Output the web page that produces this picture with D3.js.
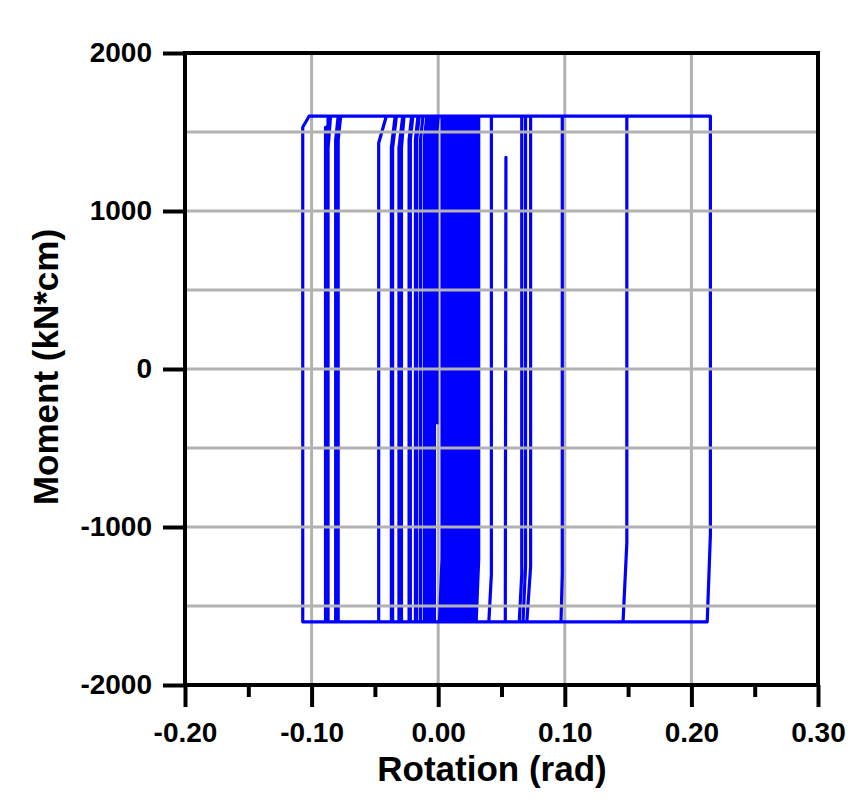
<!DOCTYPE html>
<html>
<head>
<meta charset="utf-8">
<script src="https://cdn.jsdelivr.net/npm/d3@7"></script>
<style>
  body { margin: 0; background: #fff; }
  svg text { font-family: "Liberation Sans", Arial, sans-serif; font-weight: bold; fill: #000; }
</style>
</head>
<body>
<svg width="864" height="810"></svg>
<script>
// turning points of the hysteresis path (rad, kN*cm)
let rotation = [
  -0.001, -0.001, 0.000,
  0.003, 0.003, 0.001, -0.003, -0.003, -0.001,
  0.005, 0.005, 0.003, -0.004, -0.004, -0.002,
  0.007, 0.007, 0.005, -0.005, -0.005, -0.003,
  0.009, 0.009, 0.007, -0.007, -0.007, -0.005,
  0.011, 0.011, 0.009, -0.009, -0.009, -0.007,
  0.013, 0.013, 0.011, -0.011, -0.011, -0.009,
  0.015, 0.015, 0.013, -0.014, -0.014, -0.012,
  0.017, 0.017, 0.015, -0.017, -0.017, -0.015,
  0.019, 0.019, 0.017, -0.018, -0.018, -0.016,
  0.021, 0.021, 0.019, -0.022, -0.022, -0.020,
  0.023, 0.023, 0.021, -0.023, -0.023, -0.021,
  0.025, 0.025, 0.023, -0.029, -0.029, -0.027,
  0.027, 0.027, 0.025, -0.031, -0.031, -0.028,
  0.029, 0.029, 0.027, -0.036, -0.036, -0.033,
  0.031, 0.031, 0.029, -0.037, -0.037, -0.034,
  0.032, 0.032, 0.030, -0.047, -0.047, -0.041,
  0.042, 0.042, 0.040, -0.079, -0.079, -0.077,
  0.066, 0.066, 0.064, 0.053, 0.0535, 0.053, -0.081, -0.081, -0.079,
  0.069, 0.069, 0.067, -0.087, -0.087, -0.085,
  0.073, 0.073, 0.070, -0.089, -0.089, -0.087, -0.087,
  0.098, 0.098, 0.097, -0.088, -0.088, -0.086,
  0.149, 0.149, 0.146, -0.107, -0.107, -0.102,
  0.215, 0.215, 0.2125, 0.140
];
let moment = [
  -350, 1500, 1600,
  1600, -1200, -1600, -1600, 1450, 1600,
  1600, -1200, -1600, -1600, 1450, 1600,
  1600, -1200, -1600, -1600, 1450, 1600,
  1600, -1200, -1600, -1600, 1450, 1600,
  1600, -1200, -1600, -1600, 1450, 1600,
  1600, -1200, -1600, -1600, 1450, 1600,
  1600, -1200, -1600, -1600, 1450, 1600,
  1600, -1200, -1600, -1600, 1450, 1600,
  1600, -1250, -1600, -1600, 1450, 1600,
  1600, -1250, -1600, -1600, 1450, 1600,
  1600, -1250, -1600, -1600, 1450, 1600,
  1600, -1250, -1600, -1600, 1400, 1600,
  1600, -1250, -1600, -1600, 1400, 1600,
  1600, -1250, -1600, -1600, 1400, 1600,
  1600, -1250, -1600, -1600, 1400, 1600,
  1600, -1200, -1600, -1600, 1430, 1600,
  1600, -1300, -1600, -1600, 1450, 1600,
  1600, -1300, -1600, -1600, 1340, -1600, -1600, 1450, 1600,
  1600, -1250, -1600, -1600, 1400, 1600,
  1600, -1250, -1600, -1600, 1530, 1530, 1600,
  1600, -1300, -1600, -1600, 1500, 1600,
  1600, -1100, -1600, -1600, 1530, 1600,
  1600, -1050, -1600, -1600
];

let xTicks = [-0.20, -0.10, 0.00, 0.10, 0.20, 0.30];
let xMinorTicks = [-0.15, -0.05, 0.05, 0.15, 0.25];
let yTicks = [-2000, -1000, 0, 1000, 2000];
let xGrid = [-0.10, 0.00, 0.10, 0.20];
let yGrid = [-1500, -1000, -500, 0, 500, 1000, 1500];

let plotLeft = 185, plotRight = 818, plotTop = 53, plotBottom = 685;

let svg = d3.select("svg");

let xScale = d3.scaleLinear().domain([-0.2, 0.3]).range([plotLeft, plotRight]);
let yScale = d3.scaleLinear().domain([-2000, 2000]).range([plotBottom, plotTop]);

let points = rotation.map((r, i) => [r, moment[i]]);

// vertical grid sits behind the curve
svg.append("g")
  .selectAll("line")
  .data(xGrid)
  .enter()
  .append("line")
  .attr("x1", d => xScale(d))
  .attr("x2", d => xScale(d))
  .attr("y1", plotTop)
  .attr("y2", plotBottom)
  .attr("stroke", "#b2b2b2")
  .attr("stroke-width", 3);

let line = d3.line()
  .x(d => xScale(d[0]))
  .y(d => yScale(d[1]));

svg.append("path")
  .datum(points)
  .attr("d", line)
  .attr("fill", "none")
  .attr("stroke", "#0000ff")
  .attr("stroke-width", 3.2)
  .attr("stroke-linejoin", "round");

// horizontal grid drawn over the curve
svg.append("g")
  .selectAll("line")
  .data(yGrid)
  .enter()
  .append("line")
  .attr("x1", plotLeft)
  .attr("x2", plotRight)
  .attr("y1", d => yScale(d))
  .attr("y2", d => yScale(d))
  .attr("stroke", "#b2b2b2")
  .attr("stroke-width", 3);

// frame
svg.append("rect")
  .attr("x", plotLeft)
  .attr("y", plotTop)
  .attr("width", plotRight - plotLeft)
  .attr("height", plotBottom - plotTop)
  .attr("fill", "none")
  .attr("stroke", "#000")
  .attr("stroke-width", 4);

let xAxis = d3.axisBottom(xScale)
  .tickValues(xTicks)
  .tickSize(22)
  .tickPadding(15)
  .tickFormat(d => d.toFixed(2));

let xMinor = d3.axisBottom(xScale)
  .tickValues(xMinorTicks)
  .tickSize(12)
  .tickFormat("");

let yAxis = d3.axisLeft(yScale)
  .tickValues(yTicks)
  .tickSize(22)
  .tickPadding(11)
  .tickFormat(d => String(d));

let styleAxis = g => {
  g.select(".domain").remove();
  g.selectAll(".tick line").attr("stroke", "#000").attr("stroke-width", 4);
  g.selectAll(".tick text").style("font-size", "28px");
};

svg.append("g")
  .attr("transform", `translate(0, ${plotBottom})`)
  .call(xAxis)
  .call(styleAxis);

svg.append("g")
  .attr("transform", `translate(0, ${plotBottom})`)
  .call(xMinor)
  .call(styleAxis);

svg.append("g")
  .attr("transform", `translate(${plotLeft}, 0)`)
  .call(yAxis)
  .call(styleAxis);

svg.append("text")
  .attr("x", 492)
  .attr("y", 781)
  .attr("text-anchor", "middle")
  .style("font-size", "35px")
  .text("Rotation (rad)");

svg.append("text")
  .attr("transform", "translate(58, 367) rotate(-90)")
  .attr("text-anchor", "middle")
  .style("font-size", "35px")
  .text("Moment (kN*cm)");
</script>
</body>
</html>
